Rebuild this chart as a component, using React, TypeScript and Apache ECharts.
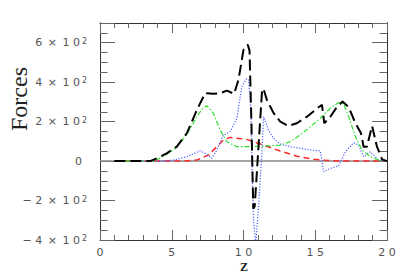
import React, { useEffect, useRef } from "react";
import * as echarts from "echarts";

// Total (black long-dashed)
const totalZ = [1, 3.5, 3.95, 4.65, 5.35, 6.05, 6.75, 7.33, 7.9, 8.4, 8.84, 9.35, 9.65, 10.0, 10.3, 10.42, 10.55, 10.68, 10.78, 11.3, 11.4, 11.63, 12.1, 12.56, 13.14, 13.72, 14.42, 15.23, 15.47, 15.63, 16.05, 16.5, 16.9, 17.33, 17.8, 18.19, 18.37, 18.6, 18.96, 19.3, 19.66, 20];
const totalF = [0, 0, 14, 39, 73, 141, 259, 344, 341, 345, 357, 341, 412, 564, 590, 560, 200, -241, -230, 365, 365, 310, 243, 200, 178, 192, 225, 273, 285, 192, 225, 273, 302, 273, 192, 141, 73, 73, 178, 73, 9, 0];

// Green dash-dot
const greenZ = [1, 3.8, 4.65, 5.35, 6.05, 6.75, 7.1, 7.44, 7.9, 8.37, 8.84, 9.54, 10.23, 11.4, 12.56, 13.26, 13.95, 14.65, 15.35, 16.05, 16.63, 16.98, 17.33, 17.8, 18.26, 18.84, 19.42, 20];
const greenF = [0, 0, 35, 70, 135, 225, 262, 281, 243, 158, 98, 73, 73, 76, 81, 98, 132, 174, 217, 268, 297, 290, 225, 124, 56, 22, 5, 0];

// Blue dotted
const blueZ = [1, 4.3, 5.12, 6.05, 6.98, 7.33, 7.79, 8.14, 8.6, 9.07, 9.54, 9.88, 10.19, 10.35, 10.51, 10.58, 10.7, 10.85, 11.05, 11.28, 11.4, 11.74, 12.09, 12.56, 13.26, 13.95, 14.65, 15.35, 15.58, 16.05, 16.63, 17.1, 17.67, 18.02, 18.37, 18.84, 19.42, 20];
const blueF = [0, 0, 5, 22, 52, 39, 14, 56, 132, 149, 217, 378, 415, 415, 276, 39, -300, -420, -232, 39, 225, 158, 115, 86, 73, 65, 56, 52, -54, -37, -25, 47, 93, 81, 22, 47, 5, 0];

// Red short-dashed
const redZ = [1, 5.8, 6.75, 7.56, 8.14, 8.6, 9.07, 9.65, 10.23, 11.4, 12.56, 13.72, 14.88, 16.05, 17, 20];
const redF = [0, 0, 5, 31, 73, 107, 120, 115, 110, 81, 51, 25, 9, 2, 0, 0];

const zeroZ = [0, 20];
const zeroF = [0, 0];

const xTicks = [0, 5, 10, 15, 20];
const yTicks = [-400, -200, 0, 200, 400, 600];

const pairs = (xs: number[], ys: number[]) => xs.map((x, i) => [x, ys[i]]);

const spaced = (s: string) => s.split("").join(" ");

const yFmt = (v: number) => {
  if (!yTicks.includes(v)) return "";
  if (v === 0) return "{z|0}";
  const m = Math.abs(v) / 100;
  return `${v < 0 ? "− " : ""}${m}\u2002×\u20021 0{s|2}`;
};

export default function App() {
  const ref = useRef<HTMLDivElement>(null);
  useEffect(() => {
    if (!ref.current) return;
    const chart = echarts.init(ref.current, undefined, { renderer: "svg" });
    const lblFont = { fontFamily: "DejaVu Sans", fontSize: 11, color: "#555" };
    const tickColor = "#666";
    const lineColor = "#333";
    const mkX = (pos: "bottom" | "top", labels: boolean) => ({
      type: "value",
      position: pos,
      min: 0,
      max: 20,
      interval: 5,
      axisLine: { show: true, onZero: false, lineStyle: { color: lineColor, width: 1 } },
      axisTick: { show: true, inside: true, length: 10, lineStyle: { color: tickColor } },
      minorTick: { show: true, splitNumber: 5, length: 5, lineStyle: { color: tickColor } },
      splitLine: { show: false },
      axisLabel: labels
        ? {
            show: true,
            margin: 7,
            lineHeight: 11,
            ...lblFont,
            formatter: (v: number) => (xTicks.includes(v) ? spaced(String(v)) : ""),
          }
        : { show: false },
    });
    const mkY = (pos: "left" | "right", interval: number, len: number, labels: boolean) => ({
      type: "value",
      position: pos,
      min: -400,
      max: 700,
      interval,
      axisLine: { show: true, onZero: false, lineStyle: { color: lineColor, width: 1 } },
      axisTick: { show: true, inside: true, length: len, lineStyle: { color: tickColor } },
      splitLine: { show: false },
      axisLabel: labels
        ? {
            show: true,
            margin: 13,
            ...lblFont,
            formatter: yFmt,
            rich: {
              s: { fontFamily: "DejaVu Sans", fontSize: 8, color: "#555", verticalAlign: "top", padding: [0, 0, 0, 2] },
              z: { fontFamily: "DejaVu Sans", fontSize: 11, color: "#555", padding: [0, 5, 0, 0] },
            },
          }
        : { show: false },
    });
    const mkLine = (name: string, xs: number[], ys: number[], color: string, width: number, type: any, z: number) => ({
      name,
      type: "line",
      data: pairs(xs, ys),
      symbol: "none",
      smooth: false,
      clip: true,
      z,
      lineStyle: { color, width, type },
    });
    chart.setOption({
      animation: false,
      backgroundColor: "#fff",
      grid: { left: 100, right: 22, top: 23, bottom: 33 },
      xAxis: [mkX("bottom", true), mkX("top", false)],
      yAxis: [
        mkY("left", 200, 15, true),
        mkY("left", 50, 7.5, false),
        mkY("right", 200, 15, false),
        mkY("right", 50, 7.5, false),
      ],
      graphic: [
        {
          type: "text",
          x: 19,
          y: 99,
          rotation: Math.PI / 2,
          style: {
            text: "Forces",
            fontFamily: "Liberation Serif",
            fontSize: 24,
            fill: "#222",
            align: "center",
            verticalAlign: "middle",
          },
        },
        {
          type: "text",
          x: 244,
          y: 266.5,
          style: {
            text: "Z",
            fontFamily: "Liberation Serif",
            fontSize: 12,
            lineHeight: 12,
            fontWeight: "bold",
            fill: "#222",
            align: "center",
            verticalAlign: "middle",
          },
        },
      ],
      series: [
        mkLine("zero", zeroZ, zeroF, "#888", 1.5, "solid", 1),
        mkLine("red", redZ, redF, "#ff2a2a", 1.5, [6, 4], 2),
        mkLine("blue", blueZ, blueF, "#4a5cff", 1.2, [1.2, 1.6], 3),
        mkLine("green", greenZ, greenF, "#2ee02e", 1.2, [5, 2, 1.5, 2], 4),
        mkLine("total", totalZ, totalF, "#000", 2, [11, 5], 5),
      ],
    });
    return () => chart.dispose();
  }, []);
  return <div ref={ref} style={{ position: "absolute", left: 0, top: 0, width: 409, height: 273 }} />;
}
